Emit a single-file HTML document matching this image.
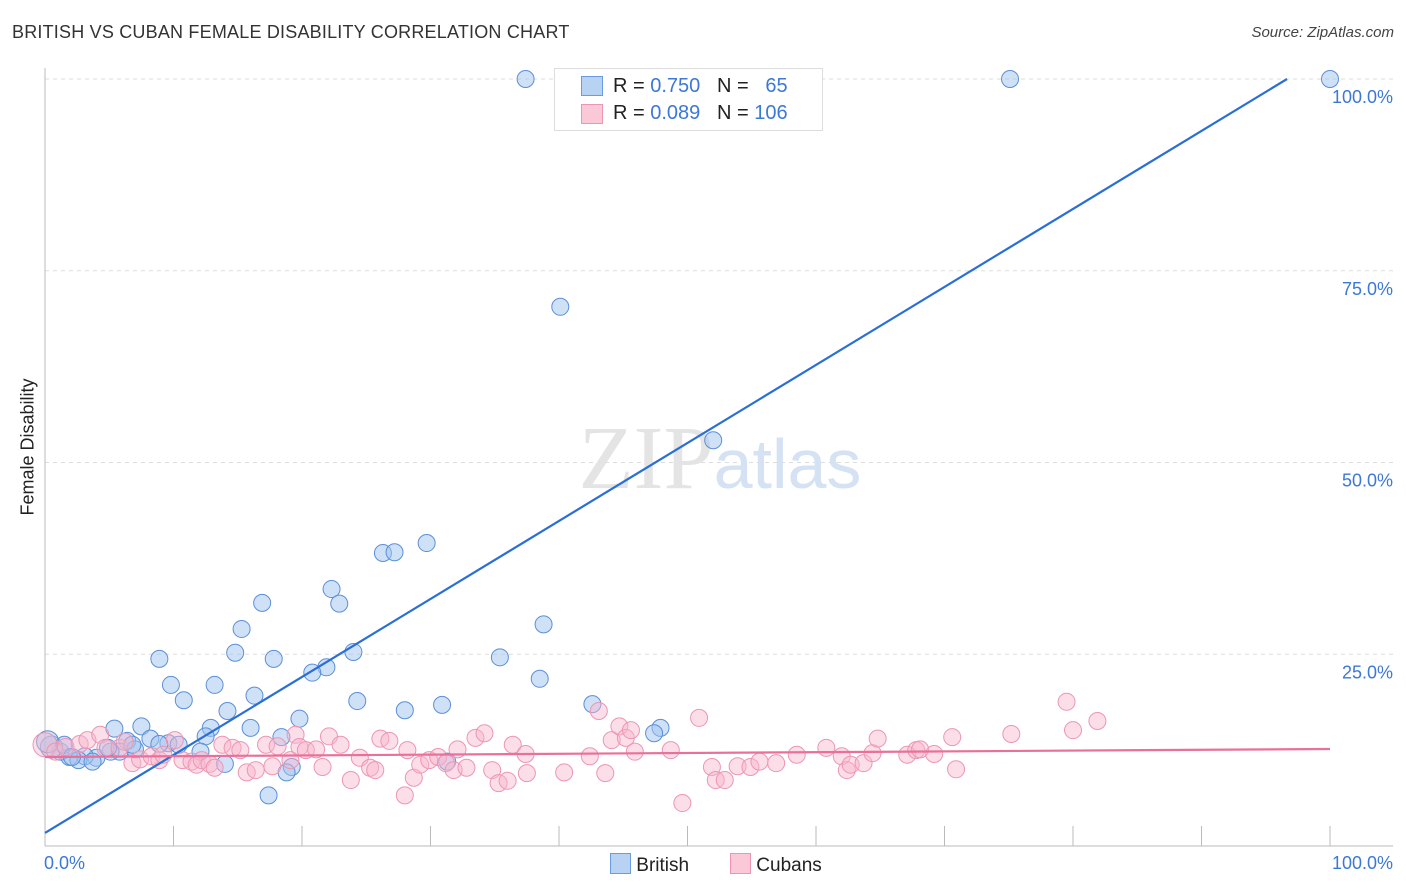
<!DOCTYPE html>
<html><head><meta charset="utf-8">
<style>
body{margin:0;background:#fff;font-family:"Liberation Sans",sans-serif;}
#wrap{position:relative;width:1406px;height:892px;overflow:hidden;}
.t{position:absolute;white-space:nowrap;}
</style></head>
<body>
<div id="wrap">
<div class="t" style="left:12px;top:22px;font-size:18px;color:#333;letter-spacing:0.2px">BRITISH VS CUBAN FEMALE DISABILITY CORRELATION CHART</div>
<div class="t" style="right:12px;top:24px;font-size:15px;color:#444;font-style:italic">Source: ZipAtlas.com</div>
<div class="t" style="left:-32px;top:445px;font-size:18px;color:#222;transform:rotate(-90deg);width:120px;text-align:center">Female Disability</div>
<svg id="svg" width="1406" height="892" style="position:absolute;left:0;top:0"></svg>
</div>
<script>
const xTickVals=[0,10,20,30,40,50,60,70,80,90,100];
const yGridVals=[25,50,75,100];
const yTickLabels=["25.0%","50.0%","75.0%","100.0%"];
const britishX=[37.4,75.1,100,40.1,52.0,26.3,27.2,29.7,22.3,22.9,16.9,15.3,38.8,14.8,8.9,17.8,24.0,35.4,21.9,20.8,9.8,13.2,38.5,10.8,16.3,24.3,28.0,30.9,42.6,14.2,19.8,7.5,5.4,12.9,16.0,8.2,12.5,18.4,9.6,6.4,10.4,47.9,47.4,7.0,5.8,12.1,14.0,19.2,18.8,17.4,31.3,4.0,3.1,1.9,1.2,0.5,0.2,2.6,3.7,5.1,8.9,4.9,6.8,1.5,2.1];
const britishY=[100,100,100,70.3,52.9,38.2,38.3,39.5,33.5,31.6,31.7,28.3,28.9,25.2,24.4,24.4,25.3,24.6,23.3,22.6,21.0,21.0,21.8,19.0,19.6,18.9,17.7,18.4,18.5,17.6,16.6,15.6,15.3,15.4,15.4,14.0,14.3,14.2,13.4,13.7,13.2,15.4,14.7,12.6,12.3,12.3,10.7,10.3,9.6,6.6,11.0,11.5,11.7,11.6,12.3,12.9,13.6,11.2,11.0,12.3,13.3,12.8,13.2,13.2,11.6];
const cubanX=[0,0.8,1.6,2.7,3.3,4.3,4.7,5.8,6.2,6.8,7.4,8.3,8.9,9.2,10.1,10.7,11.4,11.8,12.2,12.8,13.2,13.8,14.6,15.2,15.7,16.4,17.2,17.7,18.1,19.1,19.5,19.8,20.3,21.1,21.6,22.1,23.0,23.8,24.5,25.3,25.7,26.1,26.8,28.0,28.2,28.7,29.2,29.9,30.6,31.2,31.8,32.1,32.8,33.5,34.2,34.8,35.3,36.0,36.4,37.4,37.5,40.4,42.4,43.1,43.6,44.1,44.7,45.2,45.9,45.6,48.7,49.6,50.9,51.9,52.2,52.9,53.9,54.9,55.6,56.9,58.5,60.8,62.0,62.4,62.7,63.7,64.4,64.8,67.1,67.8,68.1,69.2,70.6,70.9,75.2,79.5,80.0,81.9];
const cubanY=[13.2,12.3,12.9,13.3,13.8,14.5,12.8,12.8,13.6,10.8,11.3,11.7,11.2,11.9,13.8,11.2,11.0,10.6,11.2,10.7,10.2,13.2,12.8,12.5,9.6,9.9,13.2,10.4,13.0,11.2,14.5,12.9,12.5,12.6,10.3,14.3,13.2,8.6,11.5,10.2,9.9,14.0,13.7,6.6,12.5,8.9,10.6,11.2,11.6,10.8,9.9,12.6,10.2,14.1,14.7,9.9,8.2,8.5,13.2,12.0,9.5,9.6,11.7,17.6,9.5,13.8,15.6,14.1,12.3,15.1,12.5,5.6,16.7,10.3,8.6,8.6,10.4,10.3,11.0,10.8,11.9,12.8,11.7,9.9,10.6,10.8,12.1,14.0,11.9,12.5,12.6,12.0,14.2,10.0,14.6,18.8,15.1,16.3];
const britishTrend=[1.7,1.017]; // intercept, slope
const cubanTrend=[11.6,0.0105];

const X=v=>45+v*12.85, Y=v=>846-v*7.67;
const svg=document.getElementById('svg');
const NS='http://www.w3.org/2000/svg';
function mk(tag,attrs){const e=document.createElementNS(NS,tag);for(const k in attrs)e.setAttribute(k,attrs[k]);svg.appendChild(e);return e;}

yGridVals.forEach((v,i)=>{
  const g=mk('line',{x1:45,x2:1393,y1:Y(v),y2:Y(v),stroke:'#ddd','stroke-dasharray':'4,4'});
  
  
  const t=mk('text',{x:1393,y:Y(v)+24,'text-anchor':'end','font-size':18,fill:'#3b78d8','font-family':'Liberation Sans'});
  t.textContent=yTickLabels[i];
  
  
});
const ax=mk('line',{x1:45,x2:45,y1:68,y2:846,stroke:'#bbb'});


const bx=mk('line',{x1:45,x2:1393,y1:846,y2:846,stroke:'#bbb'});


xTickVals.forEach(v=>{
  const l=mk('line',{x1:X(v),x2:X(v),y1:826,y2:846,stroke:'#bbb'});
  
  
});
const wm=mk('text',{x:720,y:488,'text-anchor':'middle','font-size':90,'font-family':'Liberation Serif',fill:'#e4e4e4'});
wm.innerHTML='ZIP<tspan font-family="Liberation Sans" font-size="70" fill="#d4e2f4">atlas</tspan>';



britishX.forEach((x,i)=>{
  const c=mk('circle',{cx:X(x),cy:Y(britishY[i]),r:(x<1&&i>50)?11:8.5,fill:'rgba(160,196,240,0.5)',stroke:'#5b8fd8','stroke-width':1});
  
  
});
cubanX.forEach((x,i)=>{
  const c=mk('circle',{cx:X(x),cy:Y(cubanY[i]),r:i==0?12:8.5,fill:'rgba(248,182,204,0.45)',stroke:'#ec96b4','stroke-width':1});
  
  
});
const bxEnd=(100-britishTrend[0])/britishTrend[1];
const bl=mk('line',{x1:X(0),y1:Y(britishTrend[0]),x2:X(bxEnd),y2:Y(100),stroke:'#2a6fd6','stroke-width':2.2});


const cl=mk('line',{x1:X(0),y1:Y(cubanTrend[0]),x2:X(100),y2:Y(cubanTrend[0]+100*cubanTrend[1]),stroke:'#e8709a','stroke-width':2.2});


</script>
<div class="t" style="left:44px;top:853px;font-size:18px;color:#3b78d8">0.0%</div>
<div class="t" style="right:13px;top:853px;font-size:18px;color:#3b78d8">100.0%</div>
<div style="position:absolute;left:554px;top:68px;width:267px;height:61px;border:1px solid #ddd;background:#fff;font-size:20px;color:#222">
  <div style="position:absolute;left:26px;top:7px;width:20px;height:18px;background:#b8d2f3;border:1px solid #6d9be0"></div>
  <div class="t" style="left:58px;top:6px">R = <span style="color:#3b78d8">0.750</span>&nbsp;&nbsp;&nbsp;N = &nbsp;&nbsp;<span style="color:#3b78d8">65</span></div>
  <div style="position:absolute;left:26px;top:35px;width:20px;height:18px;background:#fbc8d8;border:1px solid #ec96b4"></div>
  <div class="t" style="left:58px;top:33px">R = <span style="color:#3b78d8">0.089</span>&nbsp;&nbsp;&nbsp;N = <span style="color:#3b78d8">106</span></div>
</div>
<div style="position:absolute;left:610px;top:853px;font-size:19px;color:#222">
  <span style="display:inline-block;width:19px;height:19px;background:#b8d2f3;border:1px solid #6d9be0;vertical-align:-3px"></span>&nbsp;British</div>
<div style="position:absolute;left:730px;top:853px;font-size:19px;color:#222">
  <span style="display:inline-block;width:19px;height:19px;background:#fbc8d8;border:1px solid #ec96b4;vertical-align:-3px"></span>&nbsp;Cubans</div>
</body></html>
